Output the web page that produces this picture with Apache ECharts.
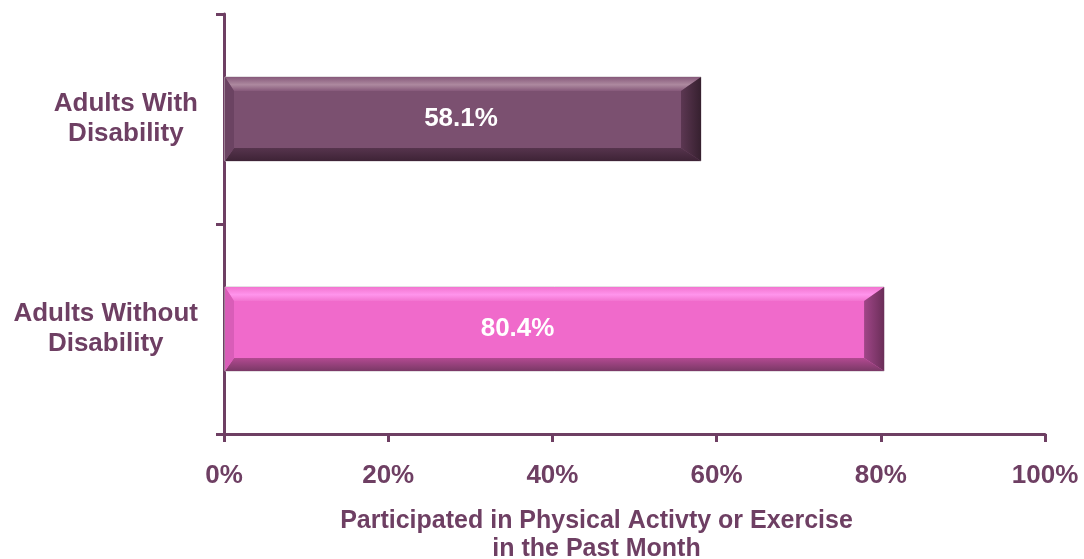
<!DOCTYPE html>
<html>
<head>
<meta charset="utf-8">
<script src="https://cdn.jsdelivr.net/npm/echarts@6/dist/echarts.min.js"></script>
<style>
  html, body { margin: 0; padding: 0; background: #fff; }
  #chart { width: 1084px; height: 559px; }
</style>
</head>
<body>
<div id="chart"></div>
<script>
// data
const categories = ['Adults With\nDisability', 'Adults Without\nDisability'];
const values = [58.1, 80.4];
const xTicks = [0, 20, 40, 60, 80, 100];
const axisTitle = 'Participated in Physical Activty or Exercise\nin the Past Month';

// look of each bar (bevelled like the office chart)
const barStyles = [
  { face: '#7B5070', topA: '#86597a', topB: '#ad899f', bot1: '#56344d', bot2: '#3e2336', left: '#6b4362', rightA: '#5c3752', rightB: '#36202f', labelShift: -2 },
  { face: '#F06ACB', topA: '#f274d0', topB: '#ff94ec', bot1: '#b24a91', bot2: '#7a3866', left: '#d95db8', rightA: '#a04688', rightB: '#6a2e58', labelShift: -37 }
];
const ink = '#6E3F63';
const font = 'Liberation Sans, Arial, sans-serif';

const chart = echarts.init(document.getElementById('chart'));

const lin = (x1, y1, x2, y2, a, b, mid) => new echarts.graphic.LinearGradient(x1, y1, x2, y2,
  mid ? [{ offset: 0, color: a }, { offset: 0.55, color: b }, { offset: 1, color: a }]
      : [{ offset: 0, color: a }, { offset: 1, color: b }]);

// draws one bevelled bar from the axis scales
const renderBar = (params, api) => {
  const v = api.value(0);
  const ci = api.value(1);
  const s = barStyles[ci];
  const p0 = api.coord([0, ci]);
  const p1 = api.coord([v, ci]);
  const h = api.size([0, 1])[1] * 0.4;
  const x0 = p0[0] + 1, x1 = p1[0];
  const y0 = p0[1] - h / 2, y1 = p0[1] + h / 2;
  const bl = 9, br = 20, bt = 14, bb = 13;
  return {
    type: 'group',
    children: [
      { type: 'rect', shape: { x: x0, y: y0, width: x1 - x0, height: h },
        style: { fill: s.face, stroke: '#c9c2c7', lineWidth: 1 } },
      { type: 'polygon', shape: { points: [[x0, y0], [x1, y0], [x1 - br, y0 + bt], [x0 + bl, y0 + bt]] },
        style: { fill: lin(0, 0, 0, 1, s.topA, s.topB, true) } },
      { type: 'polygon', shape: { points: [[x0 + bl, y1 - bb], [x1 - br, y1 - bb], [x1, y1], [x0, y1]] },
        style: { fill: lin(0, 0, 0, 1, s.bot1, s.bot2) } },
      { type: 'polygon', shape: { points: [[x0, y0], [x0 + bl, y0 + bt], [x0 + bl, y1 - bb], [x0, y1]] },
        style: { fill: s.left } },
      { type: 'polygon', shape: { points: [[x1, y0], [x1, y1], [x1 - br, y1 - bb], [x1 - br, y0 + bt]] },
        style: { fill: lin(0, 0, 1, 0, s.rightA, s.rightB) } },
      { type: 'text', x: (x0 + x1) / 2 + s.labelShift, y: p0[1],
        style: { text: v.toFixed(1) + '%', fill: '#fff', font: 'bold 26px ' + font,
                 align: 'center', verticalAlign: 'middle' } }
    ]
  };
};

const option = {
  animation: false,
  grid: { left: 224, right: 39, top: 14, bottom: 125, outerBoundsMode: 'none', containLabel: false },
  xAxis: {
    type: 'value',
    min: xTicks[0],
    max: xTicks[xTicks.length - 1],
    interval: xTicks[1] - xTicks[0],
    splitLine: { show: false },
    axisLine: { show: true, lineStyle: { color: ink, width: 3 } },
    axisTick: { show: true, length: 8, lineStyle: { color: ink, width: 3 } },
    axisLabel: { formatter: '{value}%', margin: 29, color: ink, fontSize: 26, fontWeight: 'bold', fontFamily: font },
    name: axisTitle,
    nameLocation: 'middle',
    nameGap: 73,
    nameTextStyle: { color: ink, fontSize: 25, fontWeight: 'bold', fontFamily: font, lineHeight: 28, padding: [0, 76, 0, 0] }
  },
  yAxis: {
    type: 'category',
    data: categories,
    inverse: true,
    axisLine: { lineStyle: { color: ink, width: 3 } },
    axisTick: { show: true, length: 8, lineStyle: { color: ink, width: 3 } },
    axisLabel: {
      margin: 26,
      formatter: (v) => v.split('\n').map(s => '{c|' + s + '}').join('\n'),
      rich: { c: { align: 'center', color: ink, fontSize: 26, fontWeight: 'bold', fontFamily: font, lineHeight: 30 } }
    }
  },
  series: [{
    type: 'custom',
    renderItem: renderBar,
    encode: { x: 0, y: 1 },
    data: values.map((v, i) => [v, i])
  }]
};

chart.setOption(option);
</script>
</body>
</html>
